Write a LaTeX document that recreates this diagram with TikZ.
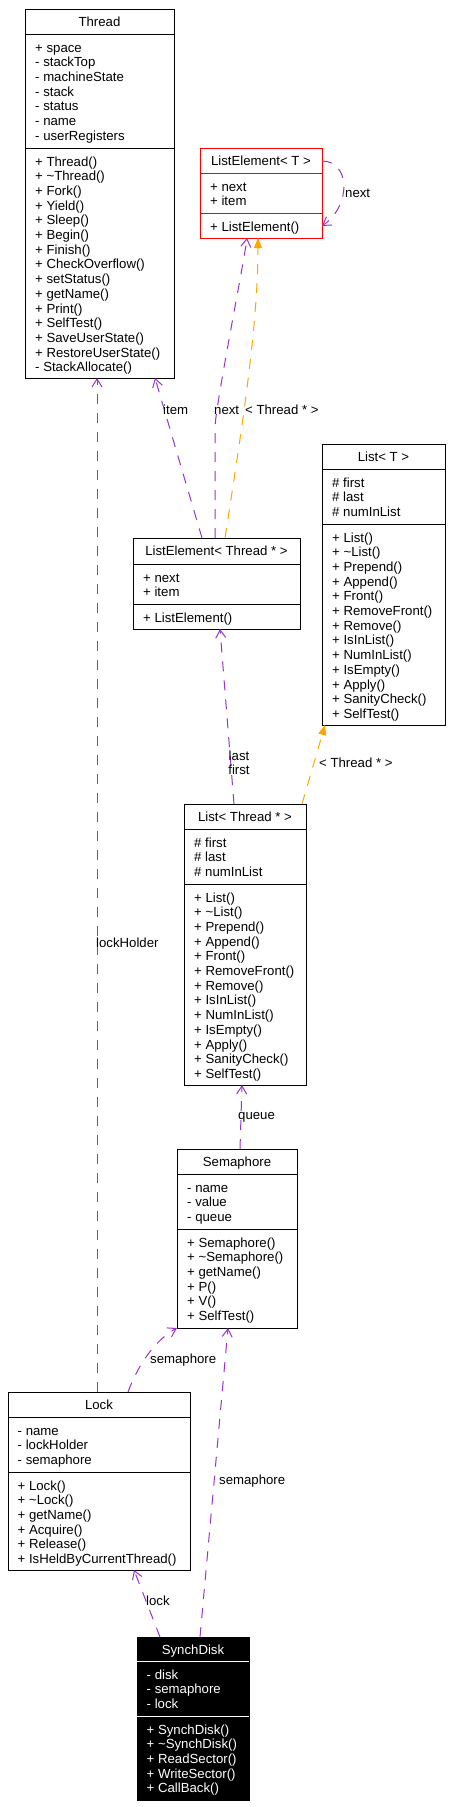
\documentclass[tikz,border=0pt]{standalone}
\usepackage{fontspec}
\setmainfont{Liberation Sans}
\usetikzlibrary{arrows.meta,calc}
\definecolor{assoc}{HTML}{9A32CD}
\definecolor{templ}{HTML}{FFA500}
\newcommand{\memberlist}[1]{\begin{tabular}[t]{@{}l@{}}#1\end{tabular}}
\begin{document}
\begin{tikzpicture}[x=1pt,y=-1pt,
    font=\fontsize{13.2}{14.7}\selectfont,
    classbox/.style={draw,line width=1pt,inner sep=0pt,outer sep=0pt,anchor=north west},
    classtitle/.style={anchor=base,inner sep=0pt},
    memberrows/.style={anchor=base west,inner sep=0pt},
    sepline/.style={line width=1pt},
    assocedge/.style={draw=assoc,line width=1pt,dash pattern=on 10pt off 9pt,
        -{Straight Barb[length=8pt,width=10pt]}},
    templedge/.style={draw=templ,line width=1pt,dash pattern=on 10pt off 9pt,
        -{Triangle[length=10pt,width=8pt,fill=templ]}},
    edgelabel/.style={inner sep=0pt,anchor=west}]
  \useasboundingbox (0,0) rectangle (466,1807);
    %THREAD:
     \begin{scope}[shift={(25,9)}]
     \node[classbox,minimum width=149,minimum height=369] (thread) at (0,0) {};
     \draw[sepline] (0,25) -- (149,25);
     \draw[sepline] (0,139) -- (149,139);
     \node[classtitle] (threadT) at (74.5,17.5) {Thread};
     \node[memberrows] (threadA) at (10,43) {\memberlist{+ space\\- stackTop\\- machineState\\- stack\\- status\\- name\\- userRegisters}};
     \node[memberrows] (threadM) at (10,157) {\memberlist{+ Thread()\\+ \textasciitilde Thread()\\+ Fork()\\+ Yield()\\+ Sleep()\\+ Begin()\\+ Finish()\\+ CheckOverflow()\\+ setStatus()\\+ getName()\\+ Print()\\+ SelfTest()\\+ SaveUserState()\\+ RestoreUserState()\\- StackAllocate()}};
     \end{scope}
    %LISTELEMENT< T >:
     \begin{scope}[shift={(200,148)}]
     \node[classbox,draw=red,minimum width=122,minimum height=90] (listelemT) at (0,0) {};
     \draw[sepline,red] (0,25) -- (122,25);
     \draw[sepline,red] (0,65) -- (122,65);
     \node[classtitle] (listelemTT) at (61,17.5) {ListElement< T >};
     \node[memberrows] (listelemTA) at (10,43) {\memberlist{+ next\\+ item}};
     \node[memberrows] (listelemTM) at (10,83) {\memberlist{+ ListElement()}};
     \end{scope}
    %LISTELEMENT< THREAD * >:
     \begin{scope}[shift={(133,538)}]
     \node[classbox,minimum width=167,minimum height=91] (listelemthr) at (0,0) {};
     \draw[sepline] (0,26) -- (167,26);
     \draw[sepline] (0,66) -- (167,66);
     \node[classtitle] (listelemthrT) at (83.5,17.5) {ListElement< Thread * >};
     \node[memberrows] (listelemthrA) at (10,44) {\memberlist{+ next\\+ item}};
     \node[memberrows] (listelemthrM) at (10,84) {\memberlist{+ ListElement()}};
     \end{scope}
    %LIST< T >:
     \begin{scope}[shift={(322,444)}]
     \node[classbox,minimum width=123,minimum height=281] (listT) at (0,0) {};
     \draw[sepline] (0,25) -- (123,25);
     \draw[sepline] (0,80) -- (123,80);
     \node[classtitle] (listTT) at (61.5,17.5) {List< T >};
     \node[memberrows] (listTA) at (10,43) {\memberlist{\# first\\\# last\\\# numInList}};
     \node[memberrows] (listTM) at (10,98) {\memberlist{+ List()\\+ \textasciitilde List()\\+ Prepend()\\+ Append()\\+ Front()\\+ RemoveFront()\\+ Remove()\\+ IsInList()\\+ NumInList()\\+ IsEmpty()\\+ Apply()\\+ SanityCheck()\\+ SelfTest()}};
     \end{scope}
    %LIST< THREAD * >:
     \begin{scope}[shift={(184,804)}]
     \node[classbox,minimum width=122,minimum height=281] (listthr) at (0,0) {};
     \draw[sepline] (0,25) -- (122,25);
     \draw[sepline] (0,80) -- (122,80);
     \node[classtitle] (listthrT) at (61,17.5) {List< Thread * >};
     \node[memberrows] (listthrA) at (10,43) {\memberlist{\# first\\\# last\\\# numInList}};
     \node[memberrows] (listthrM) at (10,98) {\memberlist{+ List()\\+ \textasciitilde List()\\+ Prepend()\\+ Append()\\+ Front()\\+ RemoveFront()\\+ Remove()\\+ IsInList()\\+ NumInList()\\+ IsEmpty()\\+ Apply()\\+ SanityCheck()\\+ SelfTest()}};
     \end{scope}
    %SEMAPHORE:
     \begin{scope}[shift={(177,1149)}]
     \node[classbox,minimum width=120,minimum height=179] (sema) at (0,0) {};
     \draw[sepline] (0,25) -- (120,25);
     \draw[sepline] (0,80) -- (120,80);
     \node[classtitle] (semaT) at (60,17.5) {Semaphore};
     \node[memberrows] (semaA) at (10,43) {\memberlist{- name\\- value\\- queue}};
     \node[memberrows] (semaM) at (10,98) {\memberlist{+ Semaphore()\\+ \textasciitilde Semaphore()\\+ getName()\\+ P()\\+ V()\\+ SelfTest()}};
     \end{scope}
    %LOCK:
     \begin{scope}[shift={(8,1392)}]
     \node[classbox,minimum width=182,minimum height=178] (lock) at (0,0) {};
     \draw[sepline] (0,25) -- (182,25);
     \draw[sepline] (0,80) -- (182,80);
     \node[classtitle] (lockT) at (91,17.5) {Lock};
     \node[memberrows] (lockA) at (9.5,43) {\memberlist{- name\\- lockHolder\\- semaphore}};
     \node[memberrows] (lockM) at (9.5,98) {\memberlist{+ Lock()\\+ \textasciitilde Lock()\\+ getName()\\+ Acquire()\\+ Release()\\+ IsHeldByCurrentThread()}};
     \end{scope}
    %SYNCHDISK:
     \begin{scope}[shift={(137,1637)}]
     \node[classbox,fill=black,minimum width=112,minimum height=163] (synch) at (0,0) {};
     \draw[sepline,white] (0,24) -- (112,24);
     \draw[sepline,white] (0,79) -- (112,79);
     \node[classtitle,text=white] (synchT) at (56,17) {SynchDisk};
     \node[memberrows,text=white] (synchA) at (9.5,42) {\memberlist{- disk\\- semaphore\\- lock}};
     \node[memberrows,text=white] (synchM) at (9.5,97) {\memberlist{+ SynchDisk()\\+ \textasciitilde SynchDisk()\\+ ReadSector()\\+ WriteSector()\\+ CallBack()}};
     \end{scope}
    %CONNECTORS:
     \draw[assocedge] ($(listelemT.north east)+(0,13)$) .. controls (350,161) and (352,205) .. ($(listelemT.north east)+(0,78)$);
     \node[edgelabel] (lblnextT) at (345,193) {next};
     \draw[assocedge] ($(listelemthr.north west)+(69,0)$) -- ($(thread.south west)+(130,0)$);
     \node[edgelabel] (lblitem) at (163,410) {item};
     \draw[assocedge] ($(listelemthr.north west)+(82,0)$) -- ++(0,-110) .. controls +(0,-20) and +(-4,30) .. ($(listelemT.south west)+(47,0)$);
     \node[edgelabel] (lblnext) at (214,410) {next};
     \draw[templedge] ($(listelemthr.north west)+(92,0)$) .. controls (240,440) and (258,330) .. ($(listelemT.south west)+(58,0)$);
     \node[edgelabel] (lblinstelem) at (245,410) {< Thread * >};
     \draw[assocedge] ($(listthr.north west)+(50,0)$) -- ($(listelemthr.south west)+(87,0)$);
     \node[inner sep=0pt,align=center,font=\fontsize{13.2}{14}\selectfont] (lbllastfirst) at (239,763) {last\\first};
     \draw[templedge] ($(listthr.north west)+(118,0)$) -- ($(listT.south west)+(3,0)$);
     \node[edgelabel] (lblinstlist) at (319,763) {< Thread * >};
     \draw[assocedge] ($(sema.north west)+(63,0)$) -- ($(listthr.south west)+(58,0)$);
     \node[edgelabel] (lblqueue) at (238,1117) {queue};
     \draw[assocedge] ($(lock.north west)+(89,0)$) -- ($(thread.south west)+(72,0)$);
     \node[edgelabel] (lbllockholder) at (96,943) {lockHolder};
     \draw[assocedge] ($(lock.north west)+(120,0)$) .. controls (138,1365) and (155,1340) .. (sema.south west);
     \node[edgelabel] (lblsemalock) at (150,1360) {semaphore};
     \draw[assocedge] ($(synch.north west)+(63,0)$) -- ($(sema.south west)+(51,0)$);
     \node[edgelabel] (lblsemasynch) at (219,1481) {semaphore};
     \draw[assocedge] ($(synch.north west)+(23,0)$) -- ($(lock.south west)+(126,0)$);
     \node[edgelabel] (lbllock) at (146,1601) {lock};
\end{tikzpicture}
\end{document}
